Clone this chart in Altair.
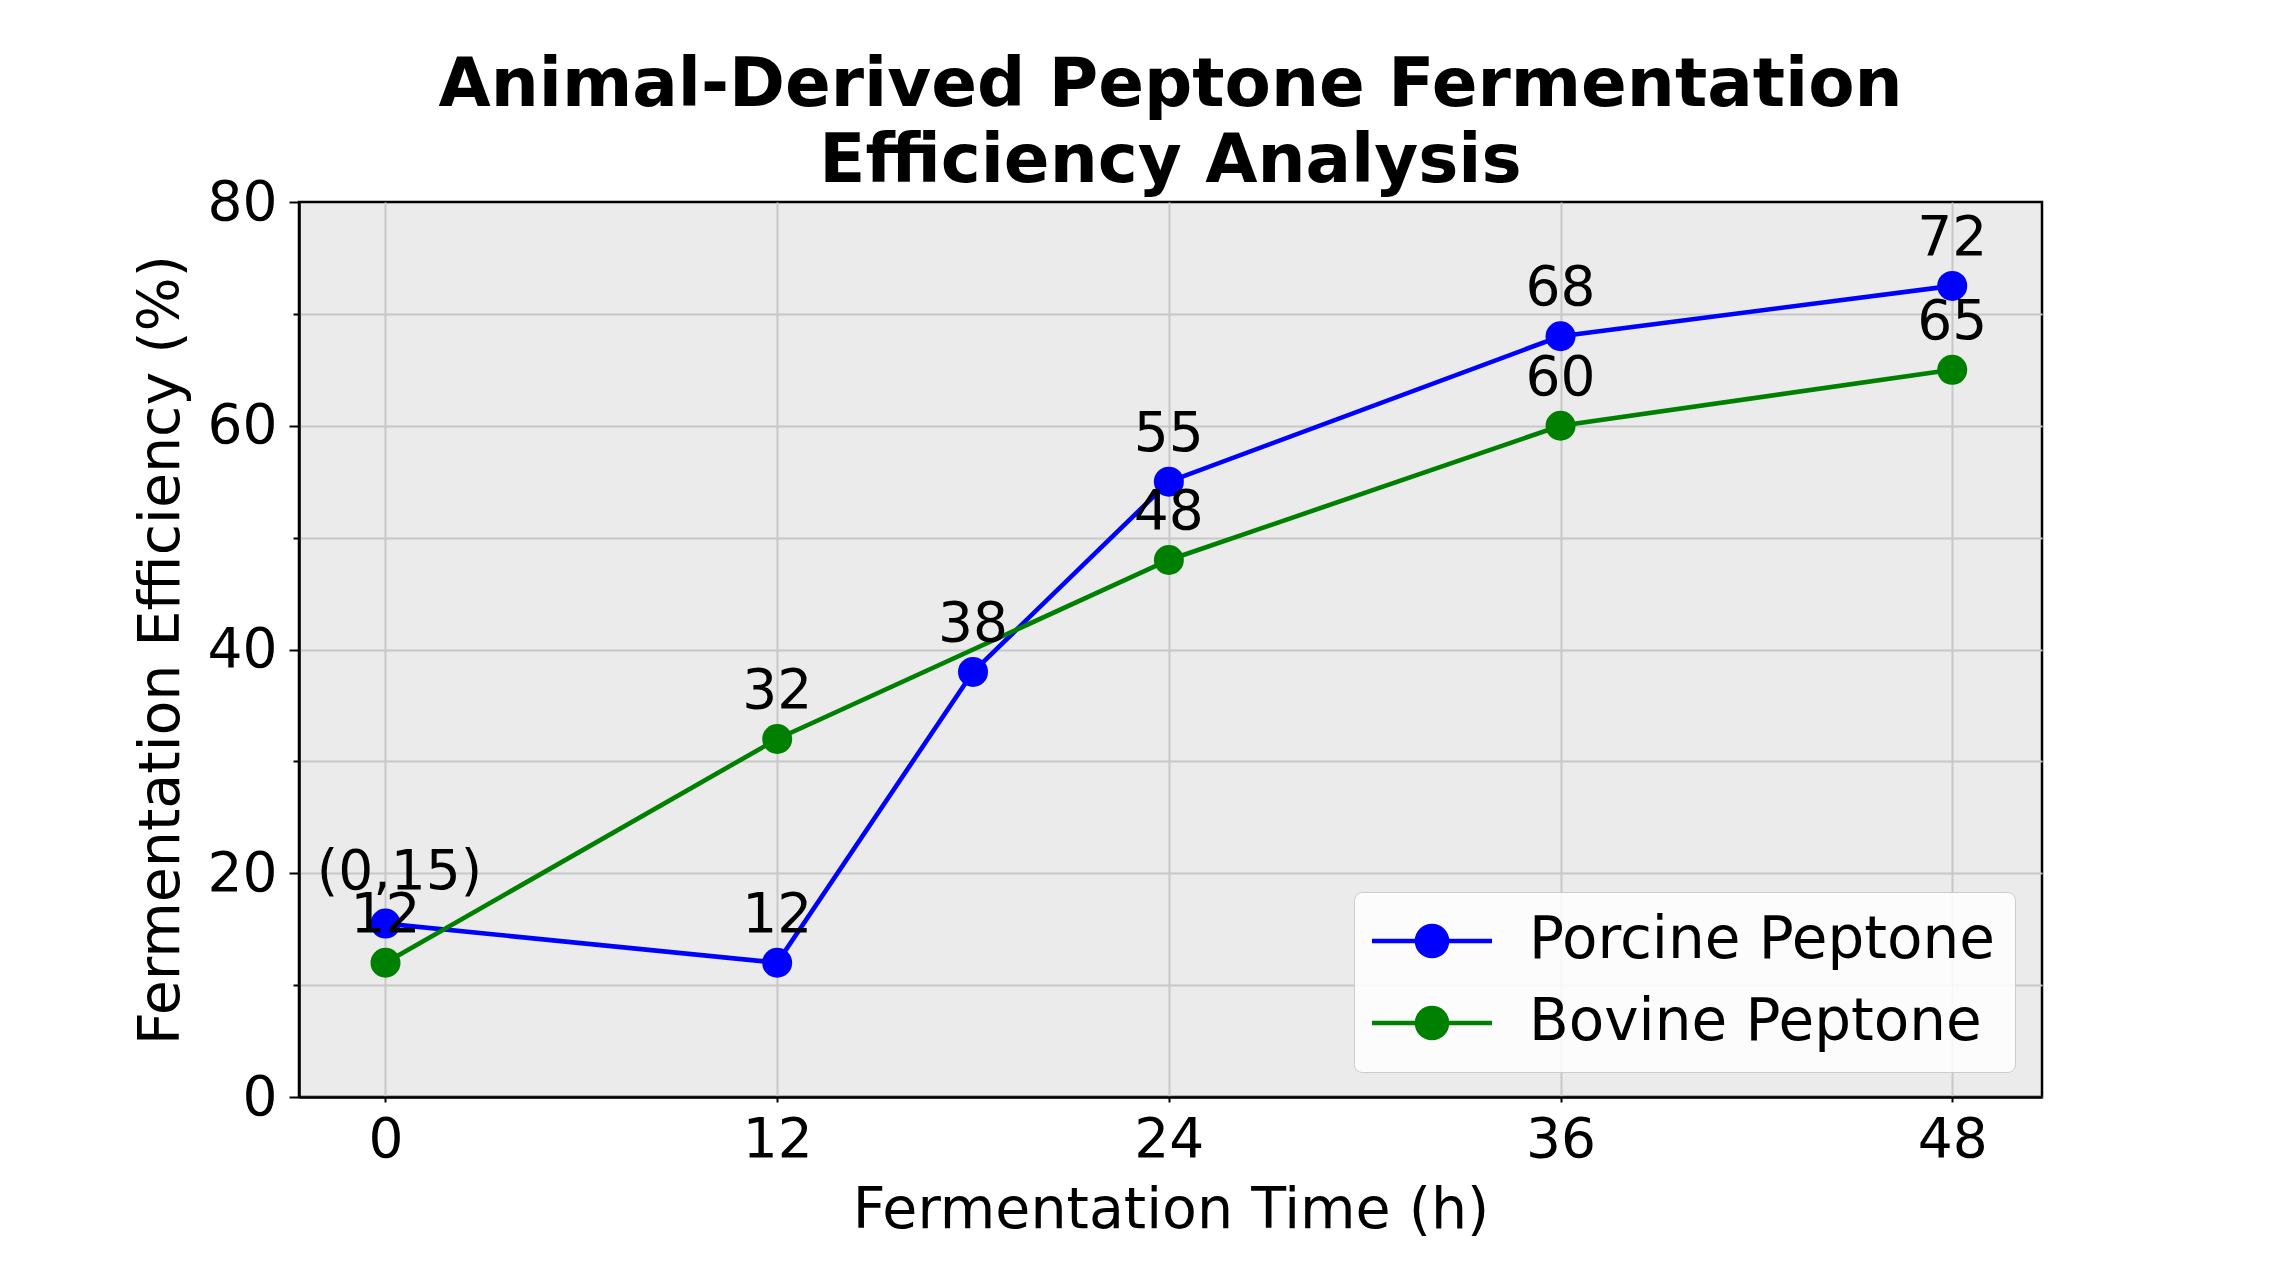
import pandas as pd
import altair as alt

# data
HOURS_P = [0, 12, 18, 24, 36, 48]
PORCINE = [15.5, 12, 38, 55, 68, 72.5]
PORCINE_LABELS = ["(0,15)", "12", "38", "55", "68", "72"]

HOURS_B = [0, 12, 24, 36, 48]
BOVINE = [12, 32, 48, 60, 65]
BOVINE_LABELS = ["12", "32", "48", "60", "65"]

SERIES = ["Porcine Peptone", "Bovine Peptone"]
COLORS = ["#0000ff", "#008000"]

X_TICKS = [0, 12, 24, 36, 48]
Y_TICKS = [0, 10, 20, 30, 40, 50, 60, 70, 80]

FONT = "DejaVu Sans"

df = pd.concat([
    pd.DataFrame({"time": HOURS_P, "eff": PORCINE, "label": PORCINE_LABELS,
                  "series": SERIES[0]}),
    pd.DataFrame({"time": HOURS_B, "eff": BOVINE, "label": BOVINE_LABELS,
                  "series": SERIES[1]}),
])

# line + dot legend symbol: circle of radius 1, line from -4 to 4
LEGEND_SYMBOL = "M-4,0L4,0M1,0A1,1,0,1,1,-1,0A1,1,0,1,1,1,0Z"

x = alt.X("time:Q", title="Fermentation Time (h)",
          scale=alt.Scale(domain=[-2.65, 50.75], nice=False, zero=False),
          axis=alt.Axis(values=X_TICKS, grid=True, labelPadding=11,
                        titlePadding=15))
y = alt.Y("eff:Q", title="Fermentation Efficiency (%)",
          scale=alt.Scale(domain=[0, 80], nice=False),
          axis=alt.Axis(values=Y_TICKS, grid=True,
                        labelExpr="datum.value % 20 === 0 ? datum.label : ''",
                        tickSize={"condition": {"test": "datum.value % 20 === 0",
                                                "value": 10}, "value": 6},
                        gridOpacity={"condition": {"test": "datum.value === 80",
                                                   "value": 0}, "value": 1},
                        labelPadding=12, titlePadding=17))
color = alt.Color("series:N",
                  scale=alt.Scale(domain=SERIES, range=COLORS),
                  legend=alt.Legend(title=None, orient="none",
                                    legendX=1055, legendY=690,
                                    symbolType=LEGEND_SYMBOL, symbolSize=900,
                                    symbolStrokeWidth=4.6, symbolOffset=29,
                                    labelFontSize=58, labelFont=FONT,
                                    labelLimit=0, labelColor="black",
                                    labelOffset=68, rowPadding=24, padding=20,
                                    fillColor="rgba(255,255,255,0.85)",
                                    strokeColor="#cccccc", cornerRadius=8))

base = alt.Chart(df)

layers = []
for s in SERIES:
    part = base.transform_filter(alt.datum.series == s)
    layers.append(part.mark_line(strokeWidth=4.6).encode(x=x, y=y, color=color))
    layers.append(part.mark_point(filled=True, size=900, opacity=1)
                  .encode(x=x, y=y, color=color))

is_note = alt.expr.indexof(alt.datum.label, "(") == 0

labels = base.transform_filter(~is_note).mark_text(
    fontSize=55, font=FONT, color="black", baseline="middle", dy=-48
).encode(x=x, y=y, text="label:N")

# the "(0,15)" note sits a bit higher and to the right
note = base.transform_filter(is_note).mark_text(
    fontSize=55, font=FONT, color="black", baseline="middle", dx=14, dy=-52
).encode(x=x, y=y, text="label:N")

chart = alt.layer(*layers, labels, note).properties(
    width=1743,
    height=895,
    autosize=alt.AutoSizeParams(type="none"),
    padding={"left": 291, "top": 194, "right": 226, "bottom": 175},
    title=alt.TitleParams(
        ["Animal-Derived Peptone Fermentation", "Efficiency Analysis"],
        fontSize=67.5, font=FONT, fontWeight="bold", lineHeight=76,
        anchor="middle", offset=8, dy=29, color="black"),
).configure_view(
    fill="#ebebeb", stroke="black", strokeWidth=2.5
).configure_axis(
    labelFont=FONT, titleFont=FONT, labelFontSize=55, titleFontSize=57,
    titleFontWeight="normal", labelColor="black", titleColor="black",
    domainColor="black", domainWidth=2.5, tickColor="black", tickWidth=2,
    gridColor="#c8c8c8", gridWidth=2, labelFlush=False, labelOverlap=False
)

chart.save("out.html", embed_options={"renderer": "svg", "actions": False})
